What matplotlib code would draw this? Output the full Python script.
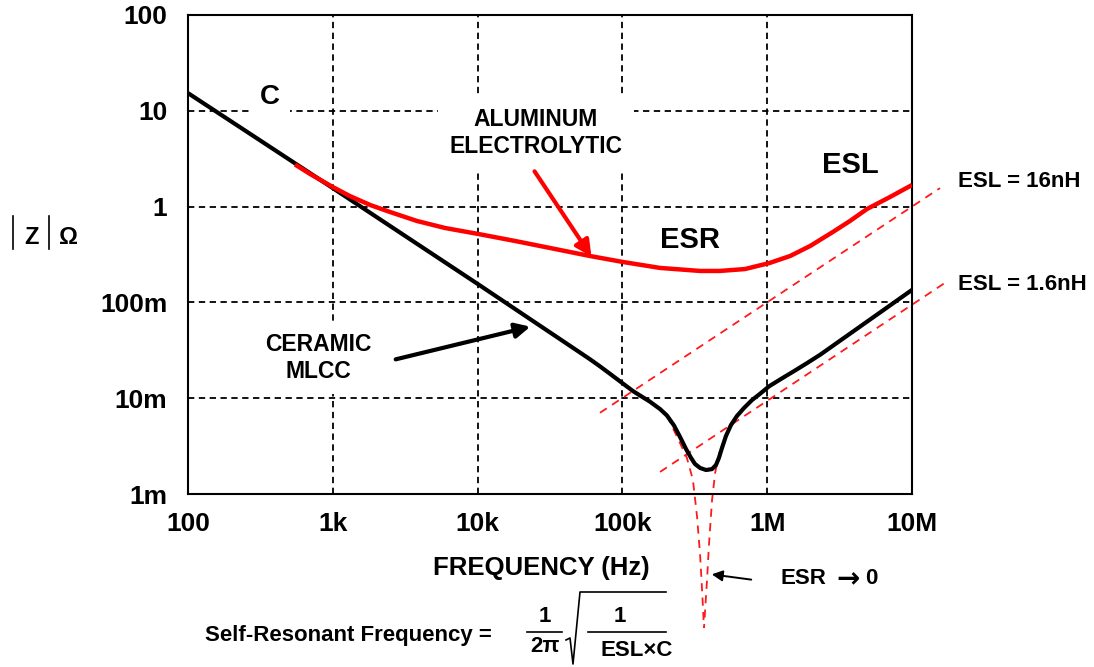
import matplotlib.pyplot as plt
from matplotlib.lines import Line2D
from matplotlib.patches import FancyArrowPatch

plt.rcParams['font.family'] = ['Liberation Sans', 'DejaVu Sans']
plt.rcParams['font.weight'] = 'bold'

# ceramic MLCC |Z| vs frequency (Hz, ohm)
mlcc_f = [100, 1.0e3, 1.0e4, 5.09e4, 5.97e4, 7.0e4, 8.2e4, 1.01e5, 1.18e5,
          1.36e5, 1.55e5, 1.82e5, 2.03e5, 2.27e5, 2.50e5, 2.75e5, 2.98e5,
          3.17e5, 3.44e5, 3.78e5, 4.16e5, 4.43e5, 4.64e5, 4.87e5, 5.19e5,
          5.62e5, 6.18e5, 6.92e5, 7.86e5, 8.91e5, 1.03e6, 1.23e6, 1.56e6,
          1.88e6, 2.32e6, 1.0e7]
mlcc_z = [15.3, 1.56, 0.156, 0.0300, 0.0255, 0.0215, 0.0180, 0.0142, 0.0119,
          0.0104, 0.0092, 0.0077, 0.0066, 0.0052, 0.00394, 0.00295, 0.00238,
          0.00206, 0.00187, 0.00178, 0.00182, 0.00201, 0.00238, 0.00302, 0.00403,
          0.00525, 0.00652, 0.00791, 0.00957, 0.0111, 0.0133, 0.0157, 0.0195,
          0.0232, 0.0284, 0.135]

# aluminum electrolytic |Z|
alu_f = [548, 697, 1.0e3, 1.31e3, 1.81e3, 2.48e3, 3.81e3, 5.96e3, 1.01e4,
         1.81e4, 3.16e4, 5.97e4, 1.01e5, 1.82e5, 3.44e5, 4.72e5, 7.03e5,
         1.04e6, 1.44e6, 1.98e6, 2.84e6, 3.73e6, 4.89e6, 7.05e6, 1.0e7]
alu_z = [2.75, 2.19, 1.60, 1.29, 1.04, 0.879, 0.708, 0.598, 0.518,
         0.438, 0.370, 0.305, 0.264, 0.229, 0.213, 0.213, 0.223,
         0.258, 0.305, 0.388, 0.543, 0.708, 0.944, 1.26, 1.68]

# ideal series resonance (ESR -> 0), two branches of the dip
dip_left_f = [2.03e5, 2.23e5, 2.50e5, 2.79e5, 3.07e5, 3.28e5, 3.44e5, 3.55e5, 3.66e5]
dip_left_z = [6.6e-3, 4.89e-3, 3.40e-3, 2.38e-3, 1.40e-3, 5.75e-4, 2.31e-4, 9.95e-5, 3.99e-5]
dip_right_f = [5.62e5, 4.72e5, 4.37e5, 4.16e5, 3.96e5, 3.84e5, 3.66e5]
dip_right_z = [5.25e-3, 2.88e-3, 1.66e-3, 8.65e-4, 2.94e-4, 1.26e-4, 3.99e-5]

# ESL asymptotes
esl16_f = [7.0e4, 1.56e7]
esl16_z = [7.04e-3, 1.56]
esl16n_f = [1.82e5, 1.69e7]
esl16n_z = [1.70e-3, 0.160]

xticks = [1e2, 1e3, 1e4, 1e5, 1e6, 1e7]
xlabels = ['100', '1k', '10k', '100k', '1M', '10M']
yticks = [1e-3, 1e-2, 1e-1, 1, 10, 100]
ylabels = ['1m', '10m', '100m', '1', '10', '100']

W, H = 1094, 667
fig = plt.figure(figsize=(W / 100, H / 100), dpi=100)


def fx(x):
    return x / W


def fy(y):
    return 1 - y / H


ax = fig.add_axes([fx(188), fy(494), (912 - 188) / W, (494 - 15) / H])
ax.set_xscale('log')
ax.set_yscale('log')
ax.set_xlim(1e2, 1e7)
ax.set_ylim(1e-3, 1e2)

ax.set_xticks(xticks)
ax.set_xticklabels(xlabels)
ax.set_yticks(yticks)
ax.set_yticklabels(ylabels)
ax.minorticks_off()
ax.tick_params(axis='both', length=0, labelsize=19)
ax.tick_params(axis='x', pad=13)
ax.tick_params(axis='y', pad=15)
for s in ax.spines.values():
    s.set_linewidth(1.5)
ax.grid(True, color='black', linestyle=(0, (3.5, 2.5)), linewidth=1.3)

red_dash = dict(color='#ff1a1a', lw=1.3, ls=(0, (4.5, 3.5)), clip_on=False, zorder=2)
ax.plot(esl16_f, esl16_z, **red_dash)
ax.plot(esl16n_f, esl16n_z, **red_dash)
ax.plot(dip_left_f, dip_left_z, **red_dash)
ax.plot(dip_right_f, dip_right_z, **red_dash)

ax.plot(mlcc_f, mlcc_z, color='black', lw=3, solid_joinstyle='round', zorder=3)
ax.plot(alu_f, alu_z, color='#ff0000', lw=3.2, solid_joinstyle='round',
        solid_capstyle='butt', zorder=4)

# labels inside the plot (white boxes hide the grid)
fig.text(fx(270), fy(97), 'C', fontsize=20, ha='center', va='center',
         bbox=dict(facecolor='white', edgecolor='none', boxstyle='square,pad=0.35'), zorder=5)
fig.text(fx(536), fy(133), 'ALUMINUM\nELECTROLYTIC', fontsize=16.5, ha='center', va='center',
         linespacing=1.2, bbox=dict(facecolor='white', edgecolor='none',
                                    boxstyle='square,pad=0.5'), zorder=5)
fig.text(fx(318), fy(358), 'CERAMIC\nMLCC', fontsize=16.5, ha='center', va='center',
         linespacing=1.2, bbox=dict(facecolor='white', edgecolor='none',
                                    boxstyle='square,pad=0.5'), zorder=5)
fig.text(fx(690), fy(240), 'ESR', fontsize=21, ha='center', va='center')
fig.text(fx(850), fy(165), 'ESL', fontsize=21, ha='center', va='center')
fig.text(fx(958), fy(182), 'ESL = 16nH', fontsize=16, ha='left', va='center')
fig.text(fx(958), fy(285), 'ESL = 1.6nH', fontsize=16, ha='left', va='center')
fig.text(fx(541), fy(568), 'FREQUENCY (Hz)', fontsize=18.5, ha='center', va='center')
fig.text(fx(780), fy(578), 'ESR', fontsize=16, ha='left', va='center')
fig.text(fx(848), fy(579), '\u2192', fontsize=20, ha='center', va='center',
         family=['DejaVu Sans'])
fig.text(fx(877), fy(578), '0', fontsize=16, ha='right', va='center')

# arrows
fig.add_artist(FancyArrowPatch((fx(533), fy(169)), (fx(593), fy(259)), transform=fig.transFigure,
                               arrowstyle='-|>', mutation_scale=24, color='#ff0000', lw=3))
fig.add_artist(FancyArrowPatch((fx(393), fy(360)), (fx(533), fy(326)), transform=fig.transFigure,
                               arrowstyle='-|>', mutation_scale=22, color='black', lw=3))
fig.add_artist(FancyArrowPatch((fx(754), fy(580)), (fx(709), fy(574)), transform=fig.transFigure,
                               arrowstyle='-|>', mutation_scale=16, color='black', lw=1.4))

# |Z| Ω axis label
for bx in (13, 49):
    fig.add_artist(Line2D([fx(bx), fx(bx)], [fy(216), fy(249)], color='black', lw=1.2,
                          transform=fig.transFigure))
fig.text(fx(31), fy(237), 'Z', fontsize=17, ha='center', va='center')
fig.text(fx(69), fy(237), '\u03a9', fontsize=17, ha='center', va='center')

# self-resonant frequency formula
fig.text(fx(205), fy(636), 'Self-Resonant Frequency =', fontsize=16, ha='left', va='center')
fig.text(fx(545), fy(616), '1', fontsize=16, ha='center', va='center')
fig.text(fx(545), fy(647), '2\u03c0', fontsize=16, ha='center', va='center')
fig.add_artist(Line2D([fx(527), fx(562)], [fy(632), fy(632)], color='black', lw=1.2,
                      transform=fig.transFigure))
fig.add_artist(Line2D([fx(566), fx(570), fx(573), fx(580), fx(666)],
                      [fy(640), fy(638), fy(664), fy(592), fy(592)], color='black', lw=1.2,
                      transform=fig.transFigure))
fig.text(fx(620), fy(616), '1', fontsize=16, ha='center', va='center')
fig.add_artist(Line2D([fx(588), fx(666)], [fy(632), fy(632)], color='black', lw=1.2,
                      transform=fig.transFigure))
fig.text(fx(637), fy(651), 'ESL\u00d7C', fontsize=16, ha='center', va='center')

fig.savefig('out.png', dpi=100)
